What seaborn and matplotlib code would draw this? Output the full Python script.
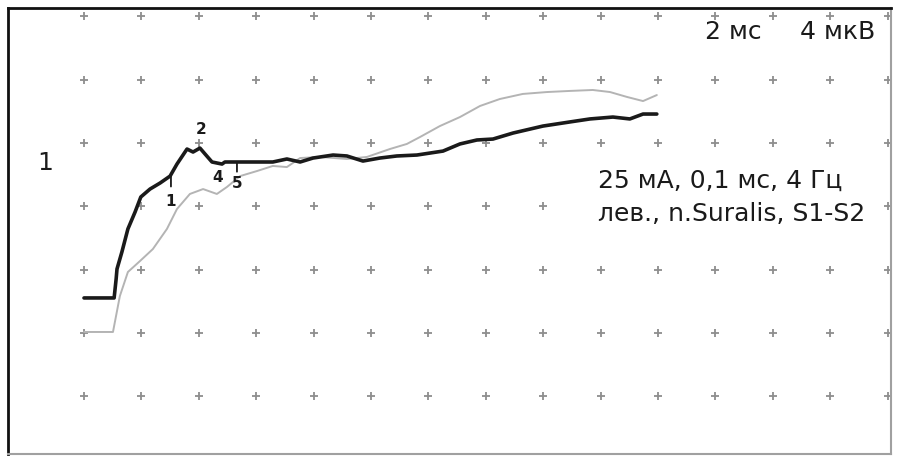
import numpy as np
import pandas as pd
import matplotlib
matplotlib.use("Agg")
import matplotlib.pyplot as plt
import seaborn as sns

# ---- data (time in ms, amplitude in µV) ----
black_t = [0.00, 1.05, 1.12, 1.15, 1.32, 1.53, 1.78, 1.98, 2.30, 2.65, 3.00, 3.24, 3.59, 3.80,
           4.04, 4.22, 4.46, 4.81, 4.91, 6.58, 7.07, 7.53, 7.98, 8.68, 9.16, 9.72, 10.31, 10.90,
           11.60, 12.51, 13.10, 13.69, 14.25, 14.95, 15.99, 16.93, 17.63, 18.43, 19.02, 19.48, 19.96]
black_v = [-9.79, -9.79, -8.59, -7.96, -6.89, -5.43, -4.36, -3.41, -2.91, -2.53, -2.09, -1.33, -0.38, -0.57,
           -0.32, -0.70, -1.20, -1.33, -1.20, -1.20, -1.01, -1.20, -0.95, -0.76, -0.82, -1.14, -0.95, -0.82,
           -0.76, -0.51, -0.06, 0.19, 0.25, 0.63, 1.07, 1.33, 1.52, 1.64, 1.52, 1.83, 1.83]

gray_t = [0.00, 1.01, 1.25, 1.53, 1.95, 2.40, 2.89, 3.24, 3.69, 4.15, 4.63, 4.98, 5.44, 6.03, 6.58,
          7.07, 7.53, 8.22, 9.16, 9.86, 10.66, 11.25, 11.71, 12.40, 13.10, 13.80, 14.49, 15.29,
          16.13, 16.93, 17.73, 18.33, 18.92, 19.48, 19.96]
gray_v = [-11.94, -11.94, -9.67, -8.15, -7.46, -6.70, -5.43, -4.17, -3.22, -2.91, -3.22, -2.78, -2.09, -1.77, -1.45,
          -1.52, -0.95, -0.88, -1.01, -0.88, -0.38, -0.06, 0.38, 1.07, 1.64, 2.34, 2.78, 3.10,
          3.22, 3.29, 3.35, 3.22, 2.91, 2.65, 3.03]

marker_labels = ["1", "2", "4", "5"]
marker_t = [3.03, 4.04, 4.74, 5.33]
marker_v = [-1.96, -0.32, -1.33, -1.20]

grid_t = list(range(0, 30, 2))          # ms, 2 ms / division
grid_v = list(range(8, -24, -4))        # µV, 4 µV / division

trace_label = "1"
scale_time = "2 мс"
scale_amp = "4 мкВ"
info_line1 = "25 мА, 0,1 мс, 4 Гц"
info_line2 = "лев., n.Suralis, S1-S2"

# ---- figure ----
sns.set_style("white")
plt.rcParams['font.family'] = ['DejaVu Sans']
fig = plt.figure(figsize=(8.98, 4.64), dpi=100)
fig.patch.set_facecolor("white")
ax = fig.add_axes([8/898, 9/464, 883/898, 446/464])

gt, gv = np.meshgrid(grid_t, grid_v)
grid_df = pd.DataFrame({"t": gt.ravel(), "v": gv.ravel()})
sns.scatterplot(data=grid_df, x="t", y="v", marker="+", s=40, color="#8e8e8e",
                linewidth=1.3, ax=ax, zorder=1)

gray_df = pd.DataFrame({"t": gray_t, "v": gray_v})
black_df = pd.DataFrame({"t": black_t, "v": black_v})
sns.lineplot(data=gray_df, x="t", y="v", sort=False, estimator=None, color="#b4b4b4",
             linewidth=1.4, ax=ax, zorder=2)
sns.lineplot(data=black_df, x="t", y="v", sort=False, estimator=None, color="#1a1a1a",
             linewidth=2.6, ax=ax, zorder=3)

# markers
offsets = {"1": (0, -19), "2": (1, 14), "4": (-2, -9), "5": (0, -15)}
ticks = {"1": 9, "2": 0, "4": 0, "5": 7}
for lab, t, v in zip(marker_labels, marker_t, marker_v):
    dx, dy = offsets[lab]
    if ticks[lab]:
        ax.annotate("", xy=(t, v), xytext=(0, -ticks[lab]), textcoords="offset points",
                    arrowprops=dict(arrowstyle="-", color="#1a1a1a", lw=1.3, shrinkA=0, shrinkB=0))
    ax.annotate(lab, xy=(t, v), xytext=(dx, dy), textcoords="offset points",
                ha="center", va="center", fontsize=11, fontweight="bold", color="#1a1a1a", zorder=4)

ax.text(-1.36, -1.2, trace_label, fontsize=18, ha="center", va="center", color="#1a1a1a")
ax.text(21.64, 7.1, scale_time, fontsize=18, ha="left", va="center", color="#1a1a1a")
ax.text(24.95, 7.1, scale_amp, fontsize=18, ha="left", va="center", color="#1a1a1a")
box = dict(facecolor="white", edgecolor="none", pad=1.0)
ax.text(17.91, -2.34, info_line1, fontsize=18, ha="left", va="center", color="#1a1a1a",
        bbox=box, zorder=5)
ax.text(17.91, -4.42, info_line2, fontsize=18, ha="left", va="center", color="#1a1a1a",
        bbox=box, zorder=5)

ax.set_xlim(-2.648, 28.12)
ax.set_ylim(-19.65, 8.53)
ax.set_xticks([])
ax.set_yticks([])
ax.set_xlabel("")
ax.set_ylabel("")
for side in ["left", "top"]:
    ax.spines[side].set_color("#111111")
    ax.spines[side].set_linewidth(2.0)
for side in ["right", "bottom"]:
    ax.spines[side].set_color("#a0a0a0")
    ax.spines[side].set_linewidth(1.5)
    ax.spines[side].set_visible(True)

fig.savefig("out.png", dpi=100, facecolor="white")
